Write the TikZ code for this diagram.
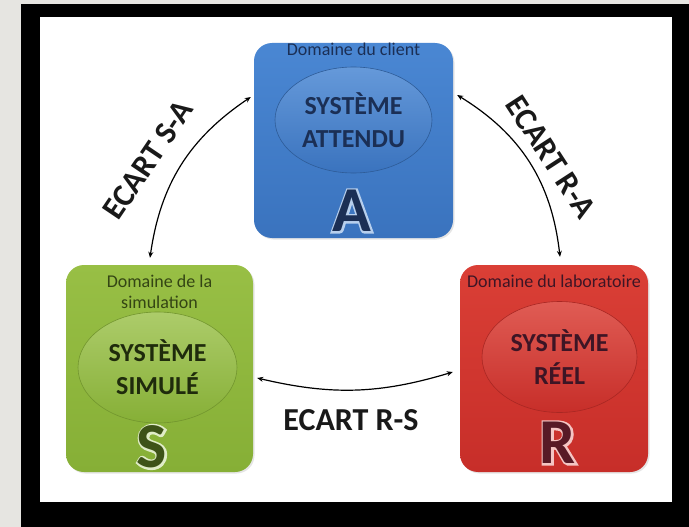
\documentclass[tikz,border=0pt]{standalone}
\usepackage{fontspec}
\setmainfont{Carlito}
\newfontfamily\halofont[FakeBold=6]{Carlito Bold}
\usetikzlibrary{arrows.meta,shapes.geometric,positioning,shadows}

\definecolor{pagegray}{HTML}{E6E5E1}
\definecolor{bleuhaut}{HTML}{4A87D3}
\definecolor{bleubas}{HTML}{3A73BE}
\definecolor{bleutxt}{HTML}{1B2F55}
\definecolor{verthaut}{HTML}{98BF45}
\definecolor{vertbas}{HTML}{86AF36}
\definecolor{verttxt}{HTML}{1F2B0C}
\definecolor{rougehaut}{HTML}{DA3F36}
\definecolor{rougebas}{HTML}{C72E29}
\definecolor{rougetxt}{HTML}{3D1525}

\tikzset{
  domaine/.style={rectangle, rounded corners=18pt, inner sep=0pt,
    drop shadow={opacity=0.2, shadow xshift=1.5pt, shadow yshift=-1.5pt}},
  noyau/.style={ellipse, inner sep=0pt, align=center, line width=0.6pt,
    font=\fontsize{26}{33}\selectfont\bfseries},
  etiquette/.style={font=\fontsize{18}{21}\selectfont, align=center, inner sep=0pt},
  lettre/.style={font=\fontsize{64}{64}\selectfont\bfseries, inner sep=0pt},
  halo/.style={font=\fontsize{64}{64}\selectfont\halofont, inner sep=0pt},
  ecart/.style={line width=1.2pt,
    {Stealth[length=6pt,width=5pt]}-{Stealth[length=6pt,width=5pt]}},
  ecartlbl/.style={font=\fontsize{32}{32}\selectfont\bfseries, inner sep=0pt, text=black!90}
}

\begin{document}
\begin{tikzpicture}[x=1pt,y=-1pt]
  \useasboundingbox (0,0) rectangle (689,527);
  % cadre
  \fill[pagegray] (0,0) rectangle (689,527);
  \fill[black] (21,4) rectangle (689,527);
  \fill[white] (40,17) rectangle (672,502);

  % les trois domaines
  \node[domaine, minimum width=199pt, minimum height=195pt,
    top color=bleuhaut, bottom color=bleubas] (att) at (353.5,140.5) {};
  \node[domaine, minimum width=187pt, minimum height=207pt,
    top color=verthaut, bottom color=vertbas] (sim) at (159.5,368.5) {};
  \node[domaine, minimum width=188pt, minimum height=207pt,
    top color=rougehaut, bottom color=rougebas] (rea) at (554,368.5) {};

  \node[etiquette, text=bleutxt] (attdom) at ([yshift=-7pt]att.north) {Domaine du client};
  \node[etiquette, text=verttxt!80!vertbas] (simdom) at ([yshift=-27.5pt]sim.north) {Domaine de la\\simulation};
  \node[etiquette, text=rougetxt] (readom) at ([yshift=-17pt]rea.north) {Domaine du laboratoire};

  % systemes
  \node[noyau, minimum width=157pt, minimum height=106pt, text=bleutxt,
    top color=bleuhaut!85!white, bottom color=bleubas, draw=bleubas!80!black] (attsys) at (353.5,120) {SYSTÈME\\ATTENDU};
  \node[noyau, minimum width=159pt, minimum height=111pt, text=verttxt,
    top color=verthaut!80!white, bottom color=vertbas, draw=vertbas!85!black] (simsys) at (157.5,367.5) {SYSTÈME\\SIMULÉ};
  \node[noyau, minimum width=155pt, minimum height=111pt, text=rougetxt,
    top color=rougehaut!85!white, bottom color=rougebas, draw=rougebas!85!black] (reasys) at (559.5,357) {SYSTÈME\\RÉEL};

  % lettres (contour clair puis lettre)
  \node[halo, text=bleuhaut!40!white] (attah) at (352,211) {A};
  \node[lettre, text=bleutxt] (atta) at (attah) {A};
  \node[halo, text=verthaut!30!white] (simsh) at (152,447) {S};
  \node[lettre, text=verttxt!70!vertbas] (sims) at (simsh) {S};
  \node[halo, text=rougehaut!30!white] (rearh) at (558,443) {R};
  \node[lettre, text=rougetxt!80!rougebas] (rear) at (rearh) {R};

  % ecarts
  \draw[ecart] ([xshift=-9.5pt,yshift=7pt]sim.north) to[bend left=24] ([xshift=-3pt,yshift=43.5pt]att.west);
  \draw[ecart] ([xshift=4pt,yshift=45.5pt]att.east) to[bend left=26] ([xshift=6pt,yshift=8pt]rea.north);
  \draw[ecart] ([xshift=-7pt,yshift=-3.5pt]rea.west) to[bend left=15] ([xshift=4pt,yshift=-9.5pt]sim.east);

  \node[ecartlbl, rotate=56] (lsa) at (148,160) {ECART S-A};
  \node[ecartlbl, rotate=-57] (lra) at (551,157) {ECART R-A};
  \node[ecartlbl] (lrs) at (351,420) {ECART R-S};
\end{tikzpicture}
\end{document}
